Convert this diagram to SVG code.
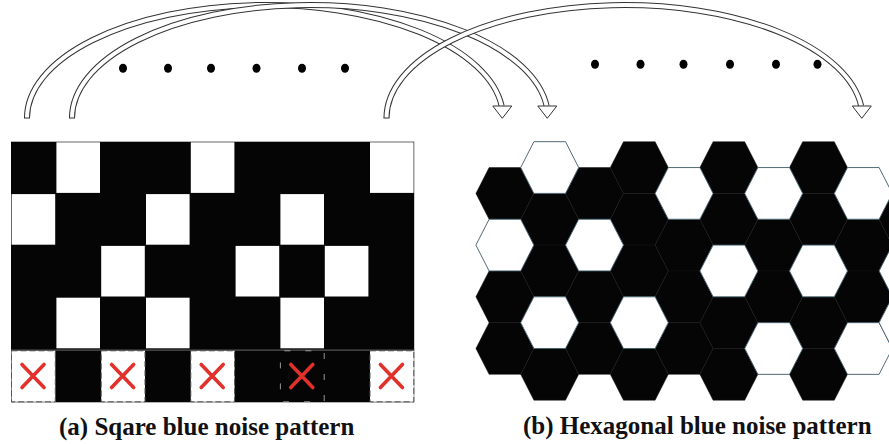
<svg xmlns="http://www.w3.org/2000/svg" xmlns:xlink="http://www.w3.org/1999/xlink" width="889" height="444" viewBox="0 0 889 444">
<style>
.bk{fill:#050505}
.wc{fill:#ffffff}
.hb{fill:#050505;stroke:#141414;stroke-width:0.5}
.hw{fill:#ffffff;stroke:#3d5a66;stroke-width:0.9}
.x{stroke:#e2302a;stroke-width:3.6;stroke-linecap:round;fill:none}
.dw{fill:none;stroke:#555;stroke-width:1;stroke-dasharray:6 3}
.dk{fill:none;stroke:#bbb;stroke-width:0.8;stroke-dasharray:6 15;stroke-dashoffset:-4}
.so{fill:none;stroke:#333;stroke-width:6}
.si{fill:none;stroke:#fff;stroke-width:4}
.hd{fill:#fff;stroke:#333;stroke-width:1}
.cap{fill:#333;stroke:#333;stroke-width:1}
.dot{fill:#000}
.t{font-family:"Liberation Serif","Times New Roman",serif;font-weight:bold;font-size:25px;fill:#111}
</style>
<defs>
<path id="hx" d="M-15.8,-25.85 H15.8 L29,0 L15.8,25.85 H-15.8 L-29,0 Z"/>
</defs>
<rect width="889" height="444" fill="#fff"/>

<g id="square-pattern">
<rect class="bk" x="11" y="141.7" width="403.2" height="260.6"/>
<rect class="wc" x="56.4" y="142.3" width="43.6" height="50.6"/>
<rect class="wc" x="190.8" y="142.3" width="43.6" height="50.6"/>
<rect class="wc" x="370" y="142.3" width="43.6" height="50.6"/>
<rect class="wc" x="11.6" y="194.1" width="43.6" height="50.6"/>
<rect class="wc" x="146" y="194.1" width="43.6" height="50.6"/>
<rect class="wc" x="280.4" y="194.1" width="43.6" height="50.6"/>
<rect class="wc" x="101.2" y="245.9" width="43.6" height="50.6"/>
<rect class="wc" x="235.6" y="245.9" width="43.6" height="50.6"/>
<rect class="wc" x="324.8" y="245.9" width="43.6" height="50.6"/>
<rect class="wc" x="56.4" y="297.7" width="43.6" height="50.6"/>
<rect class="wc" x="146" y="297.7" width="43.6" height="50.6"/>
<rect class="wc" x="280.4" y="297.7" width="43.6" height="50.6"/>
<line x1="11" y1="350.2" x2="414.2" y2="350.2" stroke="#555" stroke-width="1.2"/>
<rect class="wc" x="11.5" y="350.8" width="43.8" height="51"/>
<rect class="wc" x="101.2" y="350.8" width="43.8" height="51"/>
<rect class="wc" x="190.8" y="350.8" width="43.8" height="51"/>
<rect class="wc" x="370" y="350.8" width="43.8" height="51"/>
<rect class="dw" x="11.5" y="350.8" width="43.8" height="51"/>
<rect class="dw" x="101.2" y="350.8" width="43.8" height="51"/>
<rect class="dw" x="190.8" y="350.8" width="43.8" height="51"/>
<rect class="dw" x="370" y="350.8" width="43.8" height="51"/>
<rect class="dk" x="280.4" y="350.8" width="43.8" height="51"/>
<path class="x" d="M22,364.5 L44,387.5 M44,364.5 L22,387.5"/>
<path class="x" d="M111.6,364.5 L133.6,387.5 M133.6,364.5 L111.6,387.5"/>
<path class="x" d="M201.2,364.5 L223.2,387.5 M223.2,364.5 L201.2,387.5"/>
<path class="x" d="M290.8,364.5 L312.8,387.5 M312.8,364.5 L290.8,387.5"/>
<path class="x" d="M380.4,364.5 L402.4,387.5 M402.4,364.5 L380.4,387.5"/>
</g>

<g id="hex-pattern">
<use href="#hx" class="hb" x="504.9" y="193.4"/>
<use href="#hx" class="hb" x="504.9" y="296.8"/>
<use href="#hx" class="hb" x="504.9" y="348.5"/>
<use href="#hx" class="hb" x="549.7" y="219.25"/>
<use href="#hx" class="hb" x="549.7" y="270.95"/>
<use href="#hx" class="hb" x="549.7" y="374.35"/>
<use href="#hx" class="hb" x="594.5" y="193.4"/>
<use href="#hx" class="hb" x="594.5" y="296.8"/>
<use href="#hx" class="hb" x="594.5" y="348.5"/>
<use href="#hx" class="hb" x="639.3" y="167.55"/>
<use href="#hx" class="hb" x="639.3" y="219.25"/>
<use href="#hx" class="hb" x="639.3" y="270.95"/>
<use href="#hx" class="hb" x="639.3" y="374.35"/>
<use href="#hx" class="hb" x="684.1" y="245.1"/>
<use href="#hx" class="hb" x="684.1" y="296.8"/>
<use href="#hx" class="hb" x="684.1" y="348.5"/>
<use href="#hx" class="hb" x="728.9" y="167.55"/>
<use href="#hx" class="hb" x="728.9" y="219.25"/>
<use href="#hx" class="hb" x="728.9" y="322.65"/>
<use href="#hx" class="hb" x="728.9" y="374.35"/>
<use href="#hx" class="hb" x="773.7" y="245.1"/>
<use href="#hx" class="hb" x="773.7" y="296.8"/>
<use href="#hx" class="hb" x="818.5" y="167.55"/>
<use href="#hx" class="hb" x="818.5" y="219.25"/>
<use href="#hx" class="hb" x="818.5" y="322.65"/>
<use href="#hx" class="hb" x="818.5" y="374.35"/>
<use href="#hx" class="hb" x="863.3" y="245.1"/>
<use href="#hx" class="hb" x="863.3" y="296.8"/>
<use href="#hx" class="hb" x="908.1" y="219.25"/>
<use href="#hx" class="hw" x="504.9" y="245.1"/>
<use href="#hx" class="hw" x="549.7" y="167.55"/>
<use href="#hx" class="hw" x="549.7" y="322.65"/>
<use href="#hx" class="hw" x="594.5" y="245.1"/>
<use href="#hx" class="hw" x="639.3" y="322.65"/>
<use href="#hx" class="hw" x="684.1" y="193.4"/>
<use href="#hx" class="hw" x="728.9" y="270.95"/>
<use href="#hx" class="hw" x="773.7" y="193.4"/>
<use href="#hx" class="hw" x="773.7" y="348.5"/>
<use href="#hx" class="hw" x="818.5" y="270.95"/>
<use href="#hx" class="hw" x="863.3" y="193.4"/>
<use href="#hx" class="hw" x="863.3" y="348.5"/>
<use href="#hx" class="hw" x="908.1" y="270.95"/>
<use href="#hx" class="hw" x="908.1" y="322.65"/>
</g>

<g id="dots">
<ellipse class="dot" cx="123" cy="68.3" rx="4" ry="4.5"/>
<ellipse class="dot" cx="168" cy="68.3" rx="4" ry="4.5"/>
<ellipse class="dot" cx="211" cy="68.3" rx="4" ry="4.5"/>
<ellipse class="dot" cx="256.5" cy="68.3" rx="4" ry="4.5"/>
<ellipse class="dot" cx="302" cy="68.3" rx="4" ry="4.5"/>
<ellipse class="dot" cx="345" cy="68.3" rx="4" ry="4.5"/>
<ellipse class="dot" cx="595" cy="64.3" rx="4" ry="4.5"/>
<ellipse class="dot" cx="640.5" cy="64.3" rx="4" ry="4.5"/>
<ellipse class="dot" cx="683.5" cy="64.3" rx="4" ry="4.5"/>
<ellipse class="dot" cx="730" cy="64.3" rx="4" ry="4.5"/>
<ellipse class="dot" cx="776" cy="64.3" rx="4" ry="4.5"/>
<ellipse class="dot" cx="817.5" cy="64.3" rx="4" ry="4.5"/>
</g>

<g id="connectors">
<g id="arrow1">
<path class="so" d="M27,118 A238,113 0 0 1 501.66,106"/>
<path class="si" d="M27,118 A238,113 0 0 1 501.66,106"/>
<path class="cap" d="M24,118 H30"/>
<polygon class="hd" points="492.8,106 511.8,106 502.3,118.3"/>
</g>
<g id="arrow2">
<path class="so" d="M72,118 A238,113 0 0 1 546.66,106"/>
<path class="si" d="M72,118 A238,113 0 0 1 546.66,106"/>
<path class="cap" d="M69,118 H75"/>
<polygon class="hd" points="537.8,106 556.8,106 547.3,118.3"/>
</g>
<g id="arrow3">
<path class="so" d="M386.5,118 A238,113 0 0 1 861.16,106"/>
<path class="si" d="M386.5,118 A238,113 0 0 1 861.16,106"/>
<path class="cap" d="M383.5,118 H389.5"/>
<polygon class="hd" points="852.3,106 871.3,106 861.8,118.3"/>
</g>
</g>

<g id="captions">
<text class="t" x="59" y="435">(a) Sqare blue noise pattern</text>
<text class="t" x="523" y="434">(b) Hexagonal blue noise pattern</text>
</g>
</svg>
